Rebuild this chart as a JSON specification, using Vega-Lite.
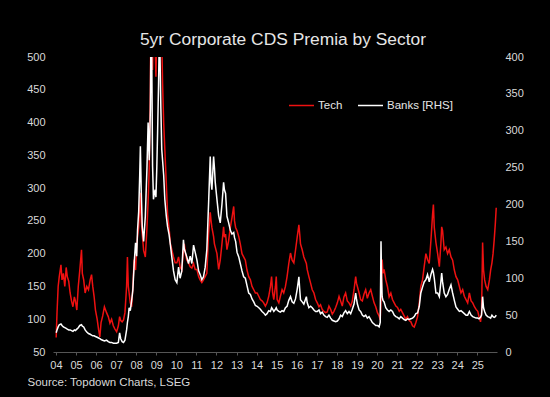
{
 "$schema": "https://vega.github.io/schema/vega-lite/v6.json",
 "width": 444,
 "height": 295,
 "autosize": {"type": "none"},
 "padding": {"left": 53, "top": 57, "right": 53, "bottom": 45},
 "background": "#000000",
 "title": {"text": "5yr Corporate CDS Premia by Sector", "anchor": "middle", "frame": "group", "dx": 8, "offset": 3, "fontSize": 17.4, "font": "Liberation Sans", "fontWeight": "normal", "color": "#e6e6e6"},
 "data": {"values": [
  {"d":"2004-01-05","t":72,"b":26},{"d":"2004-01-20","t":110,"b":30},{"d":"2004-02-10","t":150,"b":34},{"d":"2004-03-01","t":165,"b":37},{"d":"2004-04-01","t":183,"b":38},{"d":"2004-04-20","t":160,"b":36},{"d":"2004-05-15","t":170,"b":34},{"d":"2004-06-10","t":150,"b":33},{"d":"2004-07-05","t":179,"b":32},{"d":"2004-07-25","t":165,"b":31},{"d":"2004-08-20","t":158,"b":30},{"d":"2004-09-15","t":140,"b":30},{"d":"2004-10-10","t":128,"b":29},{"d":"2004-11-05","t":119,"b":28},{"d":"2004-12-01","t":134,"b":30},{"d":"2004-12-20","t":128,"b":29},
  {"d":"2005-01-15","t":114,"b":31},{"d":"2005-02-10","t":150,"b":33},{"d":"2005-03-10","t":175,"b":36},{"d":"2005-04-10","t":206,"b":37},{"d":"2005-04-25","t":170,"b":35},{"d":"2005-05-20","t":160,"b":34},{"d":"2005-06-15","t":140,"b":30},{"d":"2005-07-15","t":150,"b":27},{"d":"2005-08-15","t":145,"b":25},{"d":"2005-09-15","t":160,"b":24},{"d":"2005-10-10","t":168,"b":23},{"d":"2005-11-01","t":150,"b":22},{"d":"2005-11-25","t":135,"b":22},{"d":"2005-12-20","t":114,"b":21},
  {"d":"2006-01-20","t":100,"b":20},{"d":"2006-02-15","t":84,"b":19},{"d":"2006-03-10","t":73,"b":18},{"d":"2006-04-01","t":95,"b":17},{"d":"2006-05-01","t":105,"b":16},{"d":"2006-06-01","t":119,"b":15},{"d":"2006-07-10","t":110,"b":16},{"d":"2006-08-10","t":104,"b":14},{"d":"2006-09-10","t":94,"b":13},{"d":"2006-10-10","t":100,"b":13},{"d":"2006-11-10","t":90,"b":12},{"d":"2006-12-10","t":85,"b":12},
  {"d":"2007-01-10","t":81,"b":12},{"d":"2007-02-10","t":90,"b":13},{"d":"2007-03-05","t":104,"b":26},{"d":"2007-03-25","t":98,"b":18},{"d":"2007-04-20","t":96,"b":14},{"d":"2007-05-15","t":99,"b":13},{"d":"2007-06-10","t":110,"b":16},{"d":"2007-07-10","t":150,"b":30},{"d":"2007-07-25","t":195,"b":40},{"d":"2007-08-10","t":150,"b":48},{"d":"2007-08-25","t":140,"b":60},{"d":"2007-09-15","t":125,"b":56},{"d":"2007-10-10","t":119,"b":70},{"d":"2007-11-01","t":150,"b":84},{"d":"2007-11-25","t":191,"b":120},{"d":"2007-12-20","t":175,"b":148},
  {"d":"2008-01-10","t":210,"b":130},{"d":"2008-01-25","t":226,"b":165},{"d":"2008-02-15","t":240,"b":190},{"d":"2008-03-05","t":270,"b":240},{"d":"2008-03-17","t":293,"b":279},{"d":"2008-04-01","t":250,"b":220},{"d":"2008-04-20","t":230,"b":170},{"d":"2008-05-15","t":205,"b":150},{"d":"2008-06-15","t":195,"b":184},{"d":"2008-07-15","t":240,"b":250},{"d":"2008-08-05","t":280,"b":311},{"d":"2008-08-25","t":330,"b":260},{"d":"2008-09-15","t":450,"b":330},{"d":"2008-09-25","t":600,"b":430},{"d":"2008-10-10","t":620,"b":400},{"d":"2008-10-25","t":480,"b":252},{"d":"2008-11-10","t":560,"b":207},{"d":"2008-11-25","t":600,"b":215},{"d":"2008-12-10","t":520,"b":220},{"d":"2008-12-25","t":470,"b":210},
  {"d":"2009-01-10","t":540,"b":250},{"d":"2009-01-25","t":500,"b":300},{"d":"2009-02-10","t":560,"b":360},{"d":"2009-02-25","t":620,"b":430},{"d":"2009-03-10","t":600,"b":400},{"d":"2009-03-25","t":560,"b":330},{"d":"2009-04-10","t":530,"b":275},{"d":"2009-04-25","t":460,"b":260},{"d":"2009-05-15","t":400,"b":240},{"d":"2009-06-05","t":359,"b":207},{"d":"2009-07-01","t":309,"b":185},{"d":"2009-07-25","t":260,"b":170},{"d":"2009-08-20","t":240,"b":160},{"d":"2009-09-15","t":215,"b":145},{"d":"2009-10-10","t":206,"b":129},{"d":"2009-11-10","t":195,"b":110},{"d":"2009-12-10","t":186,"b":98},
  {"d":"2010-01-10","t":186,"b":94},{"d":"2010-02-10","t":195,"b":115},{"d":"2010-03-10","t":180,"b":100},{"d":"2010-04-10","t":175,"b":110},{"d":"2010-05-10","t":205,"b":152},{"d":"2010-05-25","t":215,"b":140},{"d":"2010-06-15","t":200,"b":135},{"d":"2010-07-10","t":190,"b":129},{"d":"2010-08-10","t":186,"b":120},{"d":"2010-09-10","t":180,"b":130},{"d":"2010-10-10","t":178,"b":120},{"d":"2010-11-10","t":185,"b":145},{"d":"2010-12-10","t":176,"b":135},
  {"d":"2011-01-10","t":176,"b":125},{"d":"2011-02-10","t":165,"b":110},{"d":"2011-03-10","t":160,"b":105},{"d":"2011-04-10","t":156,"b":98},{"d":"2011-05-10","t":160,"b":102},{"d":"2011-06-10","t":165,"b":115},{"d":"2011-07-10","t":170,"b":139},{"d":"2011-08-10","t":230,"b":200},{"d":"2011-09-10","t":263,"b":265},{"d":"2011-09-25","t":250,"b":230},{"d":"2011-10-10","t":240,"b":220},{"d":"2011-11-10","t":226,"b":265},{"d":"2011-11-25","t":215,"b":250},{"d":"2011-12-10","t":210,"b":230},
  {"d":"2012-01-10","t":200,"b":207},{"d":"2012-02-10","t":176,"b":185},{"d":"2012-03-10","t":190,"b":175},{"d":"2012-04-10","t":215,"b":200},{"d":"2012-05-10","t":241,"b":230},{"d":"2012-05-25","t":225,"b":220},{"d":"2012-06-15","t":230,"b":215},{"d":"2012-07-10","t":206,"b":184},{"d":"2012-08-10","t":220,"b":175},{"d":"2012-09-10","t":240,"b":165},{"d":"2012-10-10","t":255,"b":160},{"d":"2012-11-10","t":272,"b":162},{"d":"2012-11-25","t":250,"b":155},{"d":"2012-12-15","t":240,"b":150},
  {"d":"2013-01-10","t":235,"b":135},{"d":"2013-02-10","t":226,"b":129},{"d":"2013-03-10","t":215,"b":120},{"d":"2013-04-10","t":200,"b":110},{"d":"2013-05-10","t":195,"b":102},{"d":"2013-06-10","t":190,"b":100},{"d":"2013-07-10","t":175,"b":90},{"d":"2013-08-10","t":165,"b":80},{"d":"2013-09-10","t":160,"b":78},{"d":"2013-10-10","t":150,"b":72},{"d":"2013-11-10","t":145,"b":68},{"d":"2013-12-10","t":140,"b":63},
  {"d":"2014-01-10","t":140,"b":62},{"d":"2014-02-10","t":135,"b":60},{"d":"2014-03-10","t":130,"b":58},{"d":"2014-04-10","t":128,"b":55},{"d":"2014-05-10","t":125,"b":53},{"d":"2014-06-10","t":120,"b":50},{"d":"2014-07-10","t":125,"b":52},{"d":"2014-08-10","t":135,"b":56},{"d":"2014-09-10","t":150,"b":55},{"d":"2014-10-01","t":165,"b":60},{"d":"2014-10-20","t":140,"b":58},{"d":"2014-11-10","t":130,"b":55},{"d":"2014-12-10","t":150,"b":58},{"d":"2014-12-25","t":165,"b":60},
  {"d":"2015-01-10","t":130,"b":57},{"d":"2015-02-10","t":125,"b":55},{"d":"2015-03-10","t":135,"b":54},{"d":"2015-04-10","t":145,"b":56},{"d":"2015-05-10","t":140,"b":55},{"d":"2015-06-10","t":150,"b":60},{"d":"2015-07-10","t":165,"b":62},{"d":"2015-08-10","t":185,"b":70},{"d":"2015-09-10","t":201,"b":75},{"d":"2015-10-10","t":190,"b":68},{"d":"2015-11-10","t":186,"b":66},{"d":"2015-12-10","t":205,"b":72},
  {"d":"2016-01-10","t":225,"b":85},{"d":"2016-02-10","t":244,"b":102},{"d":"2016-02-25","t":230,"b":85},{"d":"2016-03-10","t":215,"b":71},{"d":"2016-04-10","t":206,"b":68},{"d":"2016-05-10","t":195,"b":65},{"d":"2016-06-25","t":185,"b":75},{"d":"2016-07-10","t":176,"b":67},{"d":"2016-08-10","t":165,"b":60},{"d":"2016-09-10","t":155,"b":62},{"d":"2016-10-10","t":145,"b":60},{"d":"2016-11-10","t":140,"b":57},{"d":"2016-12-10","t":130,"b":55},
  {"d":"2017-01-10","t":125,"b":55},{"d":"2017-02-10","t":119,"b":57},{"d":"2017-03-10","t":122,"b":52},{"d":"2017-04-10","t":115,"b":54},{"d":"2017-05-10","t":112,"b":50},{"d":"2017-06-10","t":110,"b":48},{"d":"2017-07-10","t":111,"b":47},{"d":"2017-08-10","t":120,"b":50},{"d":"2017-09-10","t":115,"b":46},{"d":"2017-10-10","t":108,"b":43},{"d":"2017-11-10","t":112,"b":42},{"d":"2017-12-10","t":118,"b":41},
  {"d":"2018-01-10","t":125,"b":42},{"d":"2018-02-10","t":135,"b":45},{"d":"2018-03-10","t":128,"b":50},{"d":"2018-04-10","t":120,"b":48},{"d":"2018-05-10","t":134,"b":53},{"d":"2018-06-10","t":140,"b":56},{"d":"2018-07-10","t":128,"b":52},{"d":"2018-08-10","t":125,"b":55},{"d":"2018-09-10","t":120,"b":52},{"d":"2018-10-10","t":128,"b":58},{"d":"2018-11-10","t":145,"b":65},{"d":"2018-12-10","t":165,"b":80},{"d":"2018-12-25","t":155,"b":72},
  {"d":"2019-01-10","t":150,"b":65},{"d":"2019-02-10","t":140,"b":57},{"d":"2019-03-10","t":130,"b":55},{"d":"2019-04-10","t":128,"b":50},{"d":"2019-05-10","t":138,"b":48},{"d":"2019-06-10","t":145,"b":50},{"d":"2019-07-10","t":132,"b":46},{"d":"2019-08-10","t":140,"b":48},{"d":"2019-09-10","t":145,"b":44},{"d":"2019-10-10","t":135,"b":40},{"d":"2019-11-10","t":125,"b":38},{"d":"2019-12-10","t":119,"b":36},
  {"d":"2020-01-10","t":110,"b":36},{"d":"2020-02-10","t":105,"b":34},{"d":"2020-03-01","t":99,"b":40},{"d":"2020-03-15","t":130,"b":150},{"d":"2020-03-25","t":150,"b":100},{"d":"2020-04-05","t":191,"b":75},{"d":"2020-04-20","t":170,"b":70},{"d":"2020-05-10","t":176,"b":68},{"d":"2020-06-10","t":160,"b":60},{"d":"2020-07-10","t":150,"b":57},{"d":"2020-08-10","t":134,"b":55},{"d":"2020-09-10","t":140,"b":57},{"d":"2020-10-10","t":130,"b":55},{"d":"2020-11-10","t":125,"b":50},{"d":"2020-12-10","t":120,"b":48},
  {"d":"2021-01-10","t":118,"b":47},{"d":"2021-02-10","t":112,"b":45},{"d":"2021-03-10","t":115,"b":48},{"d":"2021-04-10","t":110,"b":46},{"d":"2021-05-10","t":105,"b":44},{"d":"2021-06-10","t":100,"b":43},{"d":"2021-07-10","t":104,"b":45},{"d":"2021-08-10","t":98,"b":44},{"d":"2021-09-10","t":96,"b":45},{"d":"2021-10-10","t":90,"b":46},{"d":"2021-11-10","t":88,"b":48},{"d":"2021-12-10","t":95,"b":52},
  {"d":"2022-01-10","t":104,"b":53},{"d":"2022-02-10","t":125,"b":62},{"d":"2022-03-10","t":150,"b":80},{"d":"2022-04-10","t":160,"b":88},{"d":"2022-05-10","t":180,"b":95},{"d":"2022-06-10","t":200,"b":98},{"d":"2022-07-10","t":191,"b":105},{"d":"2022-08-10","t":185,"b":95},{"d":"2022-09-10","t":220,"b":105},{"d":"2022-10-10","t":260,"b":112},{"d":"2022-10-25","t":275,"b":108},{"d":"2022-11-10","t":240,"b":100},{"d":"2022-12-10","t":217,"b":80},
  {"d":"2023-01-10","t":200,"b":80},{"d":"2023-02-10","t":180,"b":75},{"d":"2023-03-10","t":215,"b":95},{"d":"2023-03-25","t":241,"b":107},{"d":"2023-04-10","t":235,"b":95},{"d":"2023-05-10","t":206,"b":80},{"d":"2023-06-10","t":210,"b":75},{"d":"2023-07-10","t":200,"b":78},{"d":"2023-08-10","t":206,"b":85},{"d":"2023-09-10","t":195,"b":91},{"d":"2023-10-10","t":190,"b":80},{"d":"2023-11-10","t":175,"b":70},{"d":"2023-12-10","t":165,"b":61},
  {"d":"2024-01-10","t":160,"b":58},{"d":"2024-02-10","t":150,"b":55},{"d":"2024-03-10","t":140,"b":56},{"d":"2024-04-10","t":145,"b":54},{"d":"2024-05-10","t":135,"b":52},{"d":"2024-06-10","t":130,"b":50},{"d":"2024-07-10","t":125,"b":50},{"d":"2024-08-10","t":140,"b":55},{"d":"2024-09-10","t":128,"b":50},{"d":"2024-10-10","t":125,"b":48},{"d":"2024-11-10","t":119,"b":47},{"d":"2024-12-10","t":115,"b":46},
  {"d":"2025-01-10","t":112,"b":46},{"d":"2025-02-01","t":104,"b":45},{"d":"2025-03-01","t":96,"b":47},{"d":"2025-03-20","t":110,"b":50},{"d":"2025-04-08","t":217,"b":75},{"d":"2025-04-25","t":175,"b":60},{"d":"2025-05-15","t":160,"b":55},{"d":"2025-06-10","t":150,"b":50},{"d":"2025-07-10","t":145,"b":48},{"d":"2025-08-10","t":160,"b":47},{"d":"2025-09-01","t":175,"b":46},{"d":"2025-09-25","t":186,"b":50},{"d":"2025-10-15","t":200,"b":48},{"d":"2025-11-05","t":221,"b":47},{"d":"2025-11-25","t":245,"b":48},{"d":"2025-12-12","t":270,"b":50}
 ]},
 "encoding": {
  "x": {"field": "d", "type": "temporal",
   "scale": {"domain": [{"year": 2003, "month": 11, "date": 8}, {"year": 2025, "month": 12, "date": 26}]},
   "axis": {"format": "%y", "tickCount": {"interval": "year", "step": 1}, "grid": false, "domainColor": "#555555", "tickColor": "#555555", "tickSize": 3, "labelPadding": 4, "labelFlush": false, "labelOverlap": false,
    "title": "Source: Topdown Charts, LSEG", "titleX": -26, "titleY": 30, "titleAlign": "left", "titleBaseline": "middle", "titleColor": "#d9d9d9", "titleFontSize": 11.5, "titleFontWeight": "normal", "titleFont": "Liberation Sans"}}
 },
 "layer": [
  {"mark": {"type": "line", "strokeWidth": 1.5, "clip": true},
   "encoding": {
    "y": {"field": "t", "type": "quantitative", "scale": {"domain": [50, 500], "nice": false, "zero": false},
     "axis": {"orient": "left", "values": [50,100,150,200,250,300,350,400,450,500], "domain": false, "ticks": false, "grid": false, "labelPadding": 8, "title": null}},
    "color": {"datum": "Tech", "type": "nominal",
     "scale": {"domain": ["Tech", "Banks [RHS]"], "range": ["#ee1111", "#ffffff"]},
     "legend": {"orient": "none", "legendX": 235, "legendY": 35, "direction": "horizontal", "title": null, "symbolType": "stroke", "symbolSize": 625, "symbolStrokeWidth": 1.5, "labelColor": "#e6e6e6", "labelFontSize": 11.5, "labelFont": "Liberation Sans", "labelOffset": 3, "columnPadding": 12, "padding": 0}}
   }},
  {"mark": {"type": "line", "strokeWidth": 1.5, "clip": true},
   "encoding": {
    "y": {"field": "b", "type": "quantitative", "scale": {"domain": [0, 400], "nice": false},
     "axis": {"orient": "right", "values": [0,50,100,150,200,250,300,350,400], "domain": false, "ticks": false, "grid": false, "labelPadding": 8, "title": null}},
    "color": {"datum": "Banks [RHS]", "type": "nominal"}
   }}
 ],
 "resolve": {"scale": {"y": "independent"}},
 "config": {
  "view": {"stroke": null},
  "axis": {"labelFont": "Liberation Sans", "labelFontSize": 11, "labelColor": "#d9d9d9"}
 }
}
